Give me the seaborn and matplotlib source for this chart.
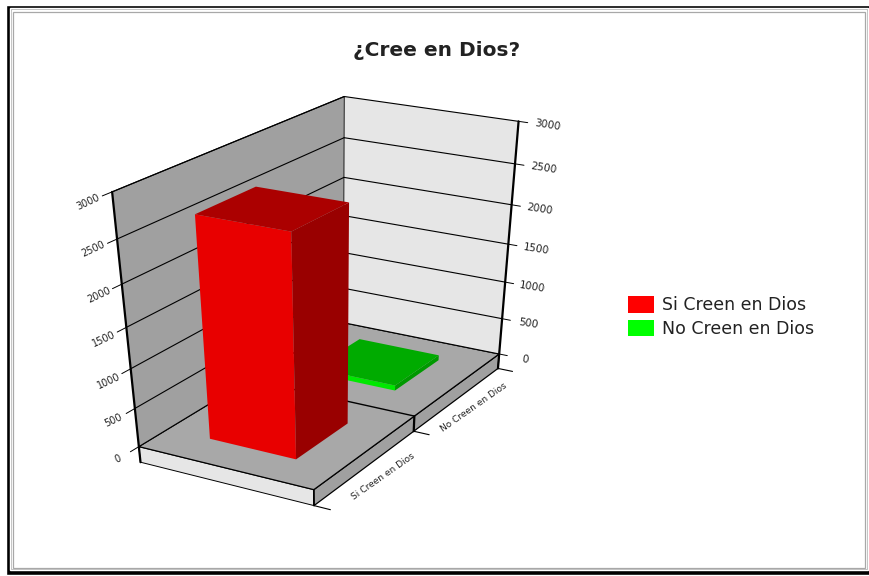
import numpy as np
import pandas as pd
import matplotlib
matplotlib.use("Agg")
import matplotlib.pyplot as plt
from matplotlib.patches import Patch, Polygon, Rectangle
import seaborn as sns

# Data
categories = ["Si Creen en Dios", "No Creen en Dios"]
values = [2700, 70]
value_ticks = [0, 500, 1000, 1500, 2000, 2500, 3000]
title = "¿Cree en Dios?"

# Camera calibration: (u, w, height share) -> pixel in the 870x576 image
CALIB_3D = np.array([
    [0, 0, 0], [1, 0, 0], [0, 2, 0], [1, 2, 0], [0, 1, 0],
    [1, 0, 1], [1, 2, 1], [0, 2, 1],
    [0, 0, -0.07], [1, 0, -0.07], [0, 2, -0.07],
], dtype=float)
CALIB_PX = np.array([
    [314, 488], [139, 446], [499, 353], [344, 322], [413, 416],
    [112, 192], [344, 97], [519, 121],
    [315, 507], [140, 463], [498, 370],
], dtype=float)
VMAX = 3000
BASE = -0.07 * VMAX


def fit_camera(pts, px):
    rows, rhs = [], []
    for (x, y, z), (a, b) in zip(pts, px):
        rows.append([x, y, z, 1, 0, 0, 0, 0, -a * x, -a * y, -a * z])
        rows.append([0, 0, 0, 0, x, y, z, 1, -b * x, -b * y, -b * z])
        rhs += [a, b]
    sol = np.linalg.lstsq(np.array(rows), np.array(rhs), rcond=None)[0]
    return np.append(sol, 1).reshape(3, 4)


CAM = fit_camera(CALIB_3D, CALIB_PX)


def proj(u, w, v):
    p = CAM @ np.array([u, w, v / VMAX, 1.0])
    return p[0] / p[2], p[1] / p[2]


def face(ax, corners, color, zorder=2, edge="none", lw=0):
    ax.add_patch(Polygon([proj(*c) for c in corners], closed=True, facecolor=color,
                         edgecolor=edge, linewidth=lw, zorder=zorder))


def seg(ax, a, b, lw=0.8, zorder=3):
    pa, pb = proj(*a), proj(*b)
    ax.plot([pa[0], pb[0]], [pa[1], pb[1]], color="black", lw=lw, zorder=zorder,
            solid_capstyle="round")


def bar3d(ax, row, value, color, zorder):
    u0, u1 = 0.25, 0.75
    w0, w1 = row + 0.25, row + 0.75
    base = np.array(color)
    # front, top and right faces of the column
    face(ax, [(u0, w0, 0), (u1, w0, 0), (u1, w0, value), (u0, w0, value)], tuple(base * 0.91), zorder)
    face(ax, [(u0, w0, 0), (u0, w1, 0), (u0, w1, value), (u0, w0, value)], tuple(base * 0.6), zorder)
    face(ax, [(u0, w0, value), (u1, w0, value), (u1, w1, value), (u0, w1, value)], tuple(base * 0.67), zorder)


sns.set_theme(style="white")
plt.rcParams["font.family"] = ["DejaVu Sans"]
palette = sns.color_palette(["#ff0000", "#00ff00"])
df = pd.DataFrame({"categoria": categories, "valor": values})

fig = plt.figure(figsize=(8.7, 5.76), dpi=100)
ax = fig.add_axes([0, 0, 1, 1])
ax.set_xlim(0, 870)
ax.set_ylim(576, 0)
ax.axis("off")

# picture frame
ax.add_patch(Rectangle((6, 5), 864, 570, facecolor="black", zorder=0))
ax.add_patch(Rectangle((10, 8), 858, 562, facecolor="#a8a8a8", zorder=0))
ax.add_patch(Rectangle((12, 10), 854, 558, facecolor="white", zorder=0))
ax.add_patch(Rectangle((13.5, 11.5), 851.5, 556, facecolor="white", edgecolor="#a8a8a8", linewidth=0.9, zorder=0))

# floor plinth, floor and the two walls
face(ax, [(1, 0, BASE), (0, 0, BASE), (0, 0, 0), (1, 0, 0)], "#e6e6e6", 1, "black", 0.7)
face(ax, [(0, 0, BASE), (0, 2, BASE), (0, 2, 0), (0, 0, 0)], "#a0a0a0", 1, "black", 0.9)
face(ax, [(0, 0, 0), (1, 0, 0), (1, 2, 0), (0, 2, 0)], "#a8a8a8", 1, "black", 0.9)
face(ax, [(1, 0, 0), (1, 2, 0), (1, 2, VMAX), (1, 0, VMAX)], "#a0a0a0", 1)
face(ax, [(1, 2, 0), (0, 2, 0), (0, 2, VMAX), (1, 2, VMAX)], "#e6e6e6", 1)

# value grid on both walls
for t in value_ticks:
    seg(ax, (1, 0, t), (1, 2, t))
    seg(ax, (1, 2, t), (0, 2, t))
    seg(ax, (1, 0, t), (1, -0.07, t), lw=0.7)
    seg(ax, (0, 2, t), (-0.05, 2, t), lw=0.7)
    px, py = proj(1, -0.17, t)
    ax.text(px, py, str(t), fontsize=7, rotation=25, ha="center", va="center",
            rotation_mode="anchor", color="#222222", zorder=4)
    px, py = proj(-0.16, 2, t)
    ax.text(px, py, str(t), fontsize=7.5, rotation=-9, ha="center", va="center",
            rotation_mode="anchor", color="#222222", zorder=4)

# wall edges and category divider
seg(ax, (1, 0, BASE), (1, 0, VMAX), lw=1.6)
seg(ax, (0, 2, BASE), (0, 2, VMAX), lw=1.6)
seg(ax, (1, 2, 0), (1, 2, VMAX), lw=0.6)
seg(ax, (1, 0, VMAX), (1, 2, VMAX), lw=0.8)
seg(ax, (1, 1, 0), (0, 1, 0), lw=1.0)
seg(ax, (0, 1, 0), (0, 1, BASE), lw=1.6)
seg(ax, (0, 0, 0), (0, 0, BASE), lw=1.2)
for row in range(3):
    seg(ax, (0, row, BASE), (-0.09, row, BASE), lw=0.8)

for row, cat in enumerate(df["categoria"]):
    px, py = proj(-0.1, row + 0.5, BASE * 1.35)
    ax.text(px, py, cat, fontsize=6.5, rotation=35, ha="center", va="center",
            rotation_mode="anchor", color="#222222", zorder=4)

# back row first so the red column hides it
for row in [1, 0]:
    bar3d(ax, row, df["valor"][row], palette[row], 5 + (1 - row))

ax.text(437, 50, title, fontsize=14.5, fontweight="bold", ha="center", va="center", color="#222222")

handles = [Patch(facecolor=c, edgecolor="none", label=l) for c, l in zip(palette, categories)]
ax.legend(handles=handles, loc="center left", bbox_to_anchor=(612 / 870, 1 - 317 / 576), frameon=False,
          fontsize=12.5, handlelength=1.5, handleheight=1.1, labelspacing=0.3, handletextpad=0.5,
          labelcolor="#222222")

fig.savefig("out.png", dpi=100)
